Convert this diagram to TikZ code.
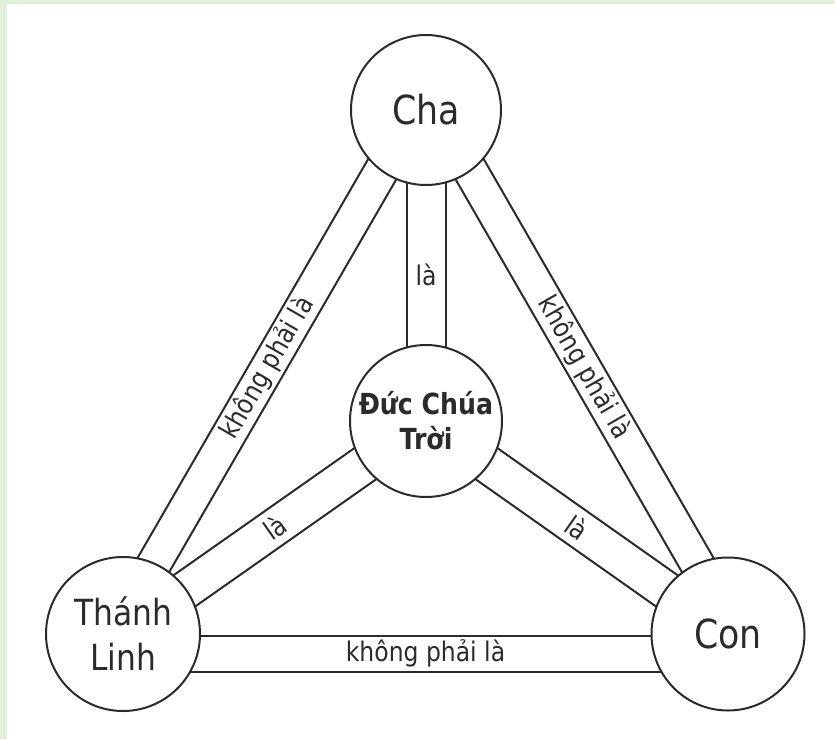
\documentclass[tikz,border=0pt]{standalone}
\usepackage{fontspec}
\setmainfont[FakeStretch=0.87]{DejaVu Sans}
\usetikzlibrary{calc}
\pgfdeclarelayer{bg}
\pgfdeclarelayer{bars}
\pgfsetlayers{bg,bars,main}
\definecolor{ink}{HTML}{2B2B2B}
\definecolor{frame}{HTML}{E2EFD9}
\begin{document}
\begin{tikzpicture}[x=1pt,y=-1pt,
  person/.style={circle, draw=ink, line width=2pt, fill=white, inner sep=0pt, text=ink},
  barline/.style={draw=ink, line width=2pt},
  lbl/.style={font=\fontsize{27}{32}\selectfont, text=ink, inner sep=0pt}]
\begin{pgfonlayer}{bg}
\fill[white] (0,0) rectangle (835,739);
\fill[frame] (0,0) rectangle (835,4);
\fill[frame] (0,0) rectangle (7,739);
\end{pgfonlayer}
\useasboundingbox (0,0) rectangle (835,739);

\node[person, minimum size=150pt, font=\fontsize{40}{48}\selectfont] (cha) at (426,110) {Cha};
\node[person, minimum size=152pt, font=\bfseries\fontsize{29}{35}\selectfont, align=center] (god) at (426,421) {Đức Chúa\\Trời};
\node[person, minimum size=154pt, font=\fontsize{36}{45}\selectfont, align=center] (tl) at (123,634) {Thánh\\Linh};
\node[person, minimum size=153pt, font=\fontsize{40}{48}\selectfont] (con) at (728,634) {Con};

\begin{pgfonlayer}{bars}
% Cha -- Thanh Linh (khong phai la)
\draw[barline] ($(cha)!25.5pt!-90:(tl)$) -- ($(tl)!25.5pt!90:(cha)$);
\draw[barline] ($(cha)!9pt!90:(tl)$) -- ($(tl)!9pt!-90:(cha)$);
% Cha -- Con (khong phai la)
\draw[barline] ($(cha)!25.5pt!90:(con)$) -- ($(con)!25.5pt!-90:(cha)$);
\draw[barline] ($(cha)!9pt!-90:(con)$) -- ($(con)!9pt!90:(cha)$);
% Thanh Linh -- Con (khong phai la)
\draw[barline] ($(tl)!1.5pt!-90:(con)$) -- ($(con)!1.5pt!90:(tl)$);
\draw[barline] ($(tl)!37.5pt!-90:(con)$) -- ($(con)!37.5pt!90:(tl)$);
% God -- Cha (la)
\draw[barline] ($(god)!19.5pt!90:(cha)$) -- ($(cha)!19.5pt!-90:(god)$);
\draw[barline] ($(god)!19.5pt!-90:(cha)$) -- ($(cha)!19.5pt!90:(god)$);
% God -- Thanh Linh (la)
\draw[barline] ($(god)!19pt!90:(tl)$) -- ($(tl)!19pt!-90:(god)$);
\draw[barline] ($(god)!19pt!-90:(tl)$) -- ($(tl)!19pt!90:(god)$);
% God -- Con (la)
\draw[barline] ($(god)!19pt!90:(con)$) -- ($(con)!19pt!-90:(god)$);
\draw[barline] ($(god)!19pt!-90:(con)$) -- ($(con)!19pt!90:(god)$);
\end{pgfonlayer}

\node[lbl] (lcha) at ($(cha)!0.53!(god)$) {là};
\path (tl) -- (god) node[midway, sloped, lbl] (ltl) {là};
\path (god) -- (con) node[midway, sloped, lbl] (lcon) {là};
\path ($(tl)!8.25pt!90:(cha)$) -- ($(cha)!8.25pt!-90:(tl)$) node[midway, sloped, lbl] (ntl) {không phải là};
\path ($(cha)!8.25pt!90:(con)$) -- ($(con)!8.25pt!-90:(cha)$) node[midway, sloped, lbl] (ncon) {không phải là};
\path ($(tl)!19.5pt!-90:(con)$) -- ($(con)!19.5pt!90:(tl)$) node[midway, lbl] (nbot) {không phải là};
\end{tikzpicture}
\end{document}
